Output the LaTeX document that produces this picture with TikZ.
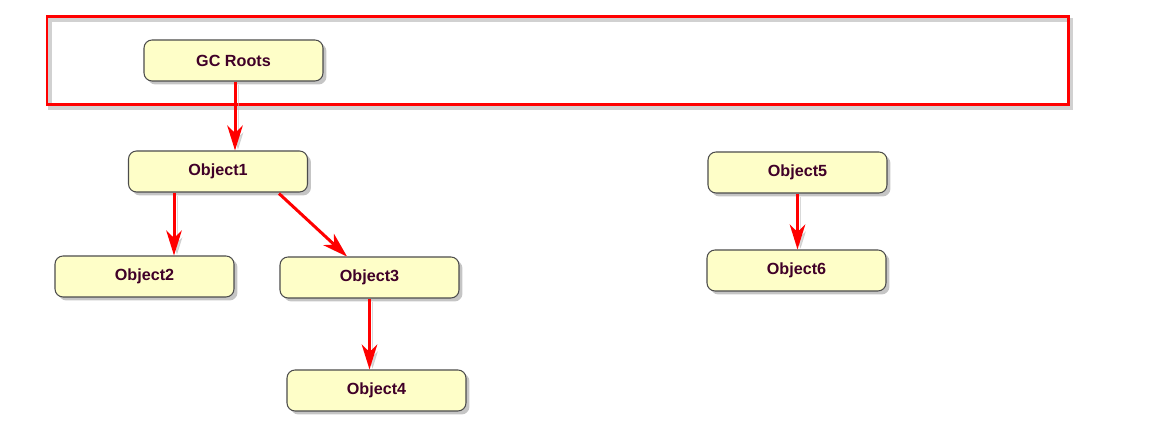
\documentclass[tikz,border=0pt]{standalone}
\usepackage{fontspec}
\setmainfont{Liberation Sans}
\usetikzlibrary{arrows.meta,shadows,calc}
\definecolor{objfill}{RGB}{254,254,200}
\definecolor{objtext}{RGB}{64,0,40}
\begin{document}
\begin{tikzpicture}[x=0.02cm,y=-0.02cm,
    font=\fontsize{9.2}{11}\selectfont\bfseries,
    obj/.style={draw=black!70,fill=objfill,text=objtext,rounded corners=0.16cm,
      minimum width=3.58cm,minimum height=0.82cm,line width=0.6pt,
      drop shadow={shadow xshift=0.07cm,shadow yshift=-0.07cm,fill=black!45,opacity=0.5}},
    link/.style={red,line width=0.06cm,-{Stealth[length=0.5cm,width=0.31cm,inset=0.15cm]},
      preaction={draw=black!25,opacity=0.6,transform canvas={shift={(0.06cm,-0.06cm)}}}}]
  \useasboundingbox (0,0) rectangle (1154,438);
  % frame round the roots
  \draw[black!30,line width=0.07cm,opacity=0.6] (50,20) rectangle (1071,108);
  \draw[red,line width=0.06cm] (47,17) rectangle (1068,105);
  \node[obj] (gc) at (233.5,60.5) {GC Roots};
  \node[obj] (o1) at (218,171.5) {Object1};
  \node[obj] (o2) at (144.5,276.5) {Object2};
  \node[obj] (o3) at (369.5,277.5) {Object3};
  \node[obj] (o4) at (376.5,390.5) {Object4};
  \node[obj] (o5) at (797.5,172.5) {Object5};
  \node[obj] (o6) at (796.5,270.5) {Object6};
  \coordinate (a2) at ($(o2.north)+(29.5,0)$);
  \draw[link] ($(gc.south)+(1.5,0)$) -- ($(gc.south |- o1.north)+(1.5,0)$);
  \draw[link] (a2 |- o1.south) -- (a2);
  \draw[link] ($(o1.south)+(61,1)$) -- ($(o3.north)+(-22.5,0)$);
  \draw[link] (o3.south) -- (o3.south |- o4.north);
  \draw[link] (o5.south) -- (o5.south |- o6.north);
\end{tikzpicture}
\end{document}
